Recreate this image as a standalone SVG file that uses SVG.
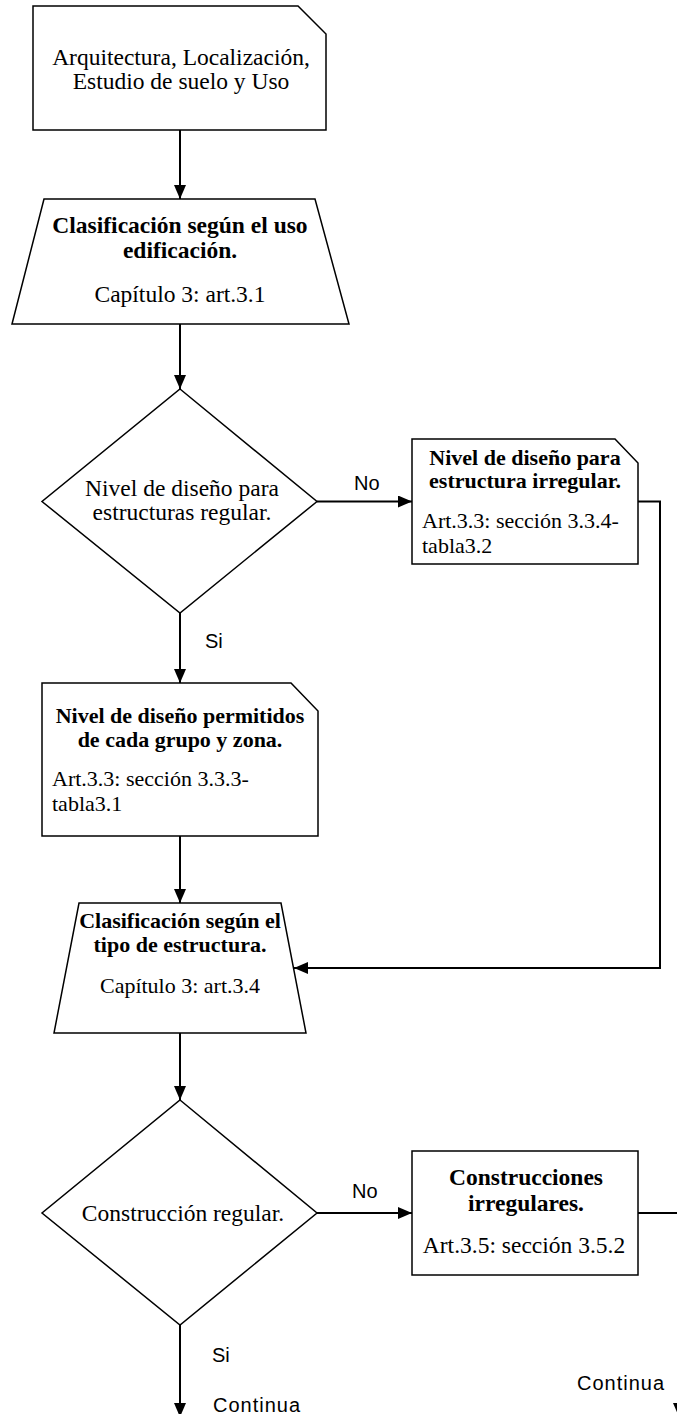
<svg xmlns="http://www.w3.org/2000/svg" width="677" height="1414" viewBox="0 0 677 1414">
<style>
.shape{fill:#fff;stroke:#000;stroke-width:1.5}
.conn{fill:none;stroke:#000;stroke-width:2}
.t{font-family:"Liberation Serif","Times New Roman",serif;fill:#000}
.big{font-size:23.5px}
.sm{font-size:22px}
.b{font-weight:bold}
.lbl{font-family:"Liberation Sans",Arial,sans-serif;font-size:20px;fill:#000}
.cont{letter-spacing:1px}
</style>
<defs>
<marker id="arr" markerUnits="userSpaceOnUse" markerWidth="14" markerHeight="12" refX="14" refY="6" orient="auto">
<path d="M0,0 L14,6 L0,12 Z" fill="#000"/>
</marker>
</defs>
<rect width="677" height="1414" fill="#fff"/>
<g id="connectors">
<path class="conn" d="M180,130 V199" marker-end="url(#arr)"/>
<path class="conn" d="M180,324 V389" marker-end="url(#arr)"/>
<path class="conn" d="M317,501.5 H412" marker-end="url(#arr)"/>
<path class="conn" d="M180,613 V683" marker-end="url(#arr)"/>
<path class="conn" d="M638,501.5 H660 V968 H294" marker-end="url(#arr)"/>
<path class="conn" d="M180,836 V903" marker-end="url(#arr)"/>
<path class="conn" d="M180,1033 V1100" marker-end="url(#arr)"/>
<path class="conn" d="M317,1213 H412" marker-end="url(#arr)"/>
<path class="conn" d="M638,1213 H679 V1417" marker-end="url(#arr)"/>
<path class="conn" d="M180,1325 V1417" marker-end="url(#arr)"/>
<text class="lbl" x="354" y="490">No</text>
<text class="lbl" x="205" y="648">Si</text>
<text class="lbl" x="352" y="1198">No</text>
<text class="lbl" x="212" y="1362">Si</text>
<text class="lbl cont" x="213" y="1412">Continua</text>
<text class="lbl cont" x="577" y="1390">Continua</text>
</g>
<g id="n1">
<polygon class="shape" points="33,6 298,6 326,34 326,130 33,130"/>
<text class="t big" text-anchor="middle" x="181" y="65">Arquitectura, Localización,</text>
<text class="t big" text-anchor="middle" x="181" y="89">Estudio de suelo y Uso</text>
</g>
<g id="n2">
<polygon class="shape" points="44,199 315,199 349,324 12,324"/>
<text class="t big b" text-anchor="middle" x="180" y="233">Clasificación según el uso</text>
<text class="t big b" text-anchor="middle" x="180" y="258">edificación.</text>
<text class="t big" text-anchor="middle" x="180" y="302">Capítulo 3: art.3.1</text>
</g>
<g id="n3">
<polygon class="shape" points="180,389 317,501.5 180,613 42,501.5"/>
<text class="t big" text-anchor="middle" x="182" y="496">Nivel de diseño para</text>
<text class="t big" text-anchor="middle" x="182" y="520">estructuras regular.</text>
</g>
<g id="n4">
<polygon class="shape" points="412,439 615,439 638,463 638,564 412,564"/>
<text class="t sm b" text-anchor="middle" x="525" y="465">Nivel de diseño para</text>
<text class="t sm b" text-anchor="middle" x="525" y="488">estructura irregular.</text>
<text class="t sm" x="422" y="528">Art.3.3: sección 3.3.4-</text>
<text class="t sm" x="422" y="553">tabla3.2</text>
</g>
<g id="n5">
<polygon class="shape" points="42,683 291,683 318,711 318,836 42,836"/>
<text class="t sm b" text-anchor="middle" x="180" y="723">Nivel de diseño permitidos</text>
<text class="t sm b" text-anchor="middle" x="180" y="747">de cada grupo y zona.</text>
<text class="t sm" x="52" y="786">Art.3.3: sección 3.3.3-</text>
<text class="t sm" x="52" y="811">tabla3.1</text>
</g>
<g id="n6">
<polygon class="shape" points="79,903 281,903 306,1033 54,1033"/>
<text class="t sm b" text-anchor="middle" x="180" y="928">Clasificación según el</text>
<text class="t sm b" text-anchor="middle" x="180" y="952">tipo de estructura.</text>
<text class="t sm" text-anchor="middle" x="180" y="993">Capítulo 3: art.3.4</text>
</g>
<g id="n7">
<polygon class="shape" points="180,1100 317,1213 180,1325 42,1213"/>
<text class="t big" text-anchor="middle" x="183" y="1221">Construcción regular.</text>
</g>
<g id="n8">
<rect class="shape" x="412" y="1151" width="226" height="124"/>
<text class="t big b" text-anchor="middle" x="526" y="1185">Construcciones</text>
<text class="t big b" text-anchor="middle" x="526" y="1211">irregulares.</text>
<text class="t big" text-anchor="middle" x="524" y="1253">Art.3.5: sección 3.5.2</text>
</g>
</svg>
